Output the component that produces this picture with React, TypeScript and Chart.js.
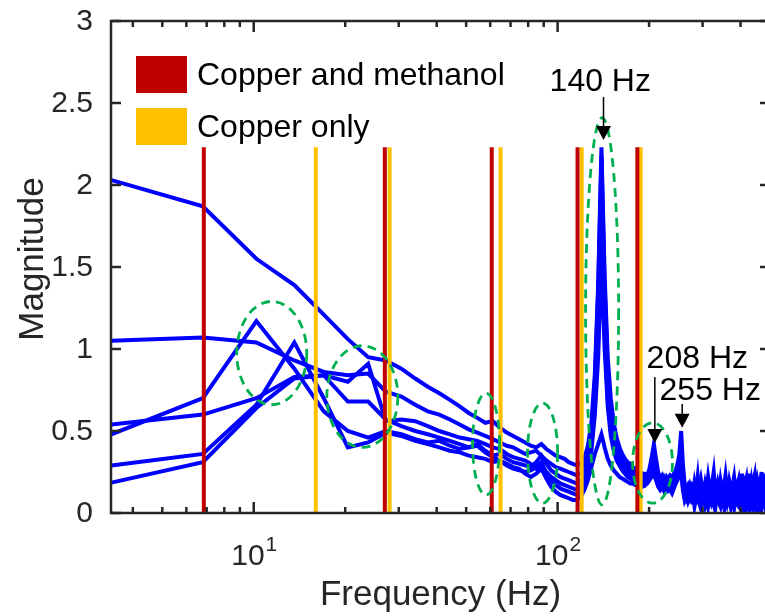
import React, { useEffect, useRef } from "react";
import { Chart, registerables } from "chart.js";

Chart.register(...registerables);

// FFT bin spacing of the spectra (Hz); bin k sits at k * binHz
const binHz = 3.4;

// Spectral magnitude of the six runs, one value per bin (bins 1..147)
const runA = [
  2.03, 1.87, 1.55, 1.39, 1.21, 1.06, 0.95, 0.93, 0.88, 0.82,
  0.77, 0.73, 0.69, 0.65, 0.61, 0.58, 0.55, 0.56, 0.52, 0.49,
  0.47, 0.45, 0.43, 0.41, 0.40, 0.42, 0.39, 0.37, 0.35, 0.34,
  0.33, 0.31, 0.30, 0.29, 0.30, 0.33, 0.41, 0.55, 0.85, 1.40,
  2.23, 1.45, 0.95, 0.70, 0.55, 0.46, 0.40, 0.36, 0.33, 0.31,
  0.30, 0.28, 0.27, 0.26, 0.25, 0.24, 0.24, 0.23, 0.24, 0.25,
  0.26, 0.24, 0.22, 0.21, 0.23, 0.20, 0.19, 0.21, 0.23, 0.22,
  0.24, 0.26, 0.30, 0.36, 0.50, 0.30, 0.18, 0.15, 0.17, 0.14,
  0.16, 0.12, 0.19, 0.14, 0.11, 0.17, 0.21, 0.15, 0.12, 0.18,
  0.14, 0.22, 0.16, 0.12, 0.19, 0.25, 0.15, 0.13, 0.18, 0.14,
  0.20, 0.15, 0.12, 0.17, 0.23, 0.16, 0.13, 0.19, 0.15, 0.12,
  0.18, 0.22, 0.15, 0.13, 0.17, 0.20, 0.14, 0.16, 0.24, 0.15,
  0.13, 0.18, 0.21, 0.14, 0.24, 0.17, 0.13, 0.19, 0.15, 0.20,
  0.23, 0.15, 0.13, 0.19, 0.16, 0.12, 0.20, 0.25, 0.15, 0.14,
  0.18, 0.24, 0.15, 0.19, 0.13, 0.21, 0.16,
];

const runB = [
  1.05, 1.07, 1.04, 0.93, 0.86, 0.84, 0.85, 0.74, 0.71, 0.66,
  0.62, 0.60, 0.57, 0.54, 0.51, 0.49, 0.47, 0.45, 0.43, 0.41,
  0.40, 0.38, 0.36, 0.37, 0.38, 0.35, 0.32, 0.30, 0.28, 0.27,
  0.26, 0.25, 0.24, 0.23, 0.24, 0.28, 0.37, 0.50, 0.80, 1.35,
  2.18, 1.38, 0.88, 0.64, 0.50, 0.43, 0.38, 0.34, 0.31, 0.29,
  0.27, 0.26, 0.25, 0.24, 0.23, 0.22, 0.22, 0.23, 0.27, 0.34,
  0.42, 0.33, 0.25, 0.21, 0.19, 0.22, 0.20, 0.18, 0.21, 0.19,
  0.22, 0.24, 0.27, 0.31, 0.34, 0.22, 0.15, 0.12, 0.14, 0.17,
  0.13, 0.11, 0.14, 0.12, 0.16, 0.13, 0.10, 0.13, 0.15, 0.12,
  0.14, 0.11, 0.15, 0.13, 0.10, 0.14, 0.17, 0.12, 0.14, 0.11,
  0.13, 0.16, 0.12, 0.10, 0.14, 0.12, 0.15, 0.18, 0.13, 0.11,
  0.14, 0.12, 0.16, 0.13, 0.10, 0.13, 0.15, 0.12, 0.11, 0.14,
  0.17, 0.13, 0.11, 0.14, 0.12, 0.15, 0.18, 0.14, 0.11, 0.13,
  0.12, 0.16, 0.14, 0.11, 0.13, 0.15, 0.12, 0.14, 0.17, 0.12,
  0.13, 0.11, 0.15, 0.13, 0.16, 0.12, 0.14,
];

const runC = [
  0.48, 0.70, 1.17, 0.88, 0.62, 0.50, 0.46, 0.50, 0.48, 0.45,
  0.43, 0.44, 0.41, 0.39, 0.40, 0.42, 0.38, 0.35, 0.36, 0.33,
  0.31, 0.30, 0.29, 0.28, 0.31, 0.35, 0.30, 0.26, 0.24, 0.22,
  0.21, 0.20, 0.19, 0.18, 0.20, 0.24, 0.32, 0.46, 0.74, 1.25,
  2.05, 1.28, 0.80, 0.58, 0.46, 0.39, 0.35, 0.31, 0.29, 0.27,
  0.25, 0.24, 0.23, 0.22, 0.21, 0.21, 0.20, 0.21, 0.23, 0.25,
  0.28, 0.24, 0.20, 0.19, 0.17, 0.20, 0.22, 0.19, 0.17, 0.20,
  0.21, 0.23, 0.26, 0.29, 0.32, 0.20, 0.13, 0.10, 0.12, 0.09,
  0.12, 0.14, 0.10, 0.08, 0.11, 0.15, 0.12, 0.09, 0.11, 0.14,
  0.10, 0.08, 0.12, 0.10, 0.13, 0.09, 0.11, 0.14, 0.10, 0.08,
  0.12, 0.09, 0.11, 0.13, 0.10, 0.08, 0.12, 0.10, 0.14, 0.09,
  0.11, 0.08, 0.12, 0.15, 0.10, 0.09, 0.12, 0.08, 0.11, 0.13,
  0.09, 0.11, 0.08, 0.12, 0.10, 0.13, 0.09, 0.12, 0.15, 0.10,
  0.08, 0.11, 0.13, 0.09, 0.12, 0.10, 0.08, 0.12, 0.10, 0.14,
  0.11, 0.09, 0.12, 0.10, 0.13, 0.09, 0.11,
];

const runD = [
  0.54, 0.60, 0.70, 0.83, 0.84, 0.80, 0.91, 0.56, 0.57, 0.56,
  0.53, 0.50, 0.48, 0.46, 0.45, 0.44, 0.42, 0.40, 0.39, 0.36,
  0.34, 0.33, 0.32, 0.30, 0.27, 0.29, 0.25, 0.22, 0.20, 0.18,
  0.17, 0.16, 0.15, 0.14, 0.16, 0.21, 0.29, 0.42, 0.65, 1.05,
  1.65, 1.08, 0.70, 0.50, 0.41, 0.35, 0.31, 0.28, 0.26, 0.24,
  0.23, 0.22, 0.21, 0.20, 0.20, 0.19, 0.19, 0.20, 0.22, 0.24,
  0.26, 0.22, 0.19, 0.17, 0.19, 0.16, 0.18, 0.20, 0.17, 0.15,
  0.18, 0.20, 0.23, 0.27, 0.30, 0.18, 0.11, 0.08, 0.10, 0.13,
  0.09, 0.12, 0.10, 0.14, 0.22, 0.11, 0.08, 0.10, 0.13, 0.09,
  0.12, 0.10, 0.08, 0.11, 0.14, 0.10, 0.07, 0.10, 0.12, 0.09,
  0.10, 0.13, 0.09, 0.11, 0.08, 0.12, 0.10, 0.09, 0.13, 0.11,
  0.09, 0.12, 0.10, 0.08, 0.11, 0.14, 0.09, 0.11, 0.08, 0.12,
  0.10, 0.13, 0.15, 0.10, 0.08, 0.11, 0.09, 0.13, 0.10, 0.12,
  0.09, 0.12, 0.10, 0.13, 0.08, 0.11, 0.14, 0.09, 0.12, 0.10,
  0.12, 0.09, 0.11, 0.13, 0.10, 0.12, 0.09,
];

const runE = [
  0.29, 0.36, 0.66, 1.04, 0.70, 0.40, 0.43, 0.49, 0.47, 0.44,
  0.42, 0.40, 0.38, 0.37, 0.35, 0.34, 0.33, 0.31, 0.32, 0.29,
  0.27, 0.26, 0.25, 0.26, 0.28, 0.31, 0.24, 0.20, 0.17, 0.15,
  0.14, 0.13, 0.12, 0.11, 0.13, 0.18, 0.26, 0.38, 0.60, 0.95,
  1.55, 1.00, 0.65, 0.47, 0.38, 0.32, 0.29, 0.26, 0.24, 0.22,
  0.21, 0.20, 0.19, 0.19, 0.18, 0.18, 0.17, 0.19, 0.21, 0.24,
  0.30, 0.23, 0.18, 0.16, 0.18, 0.15, 0.17, 0.14, 0.16, 0.18,
  0.16, 0.19, 0.22, 0.25, 0.28, 0.16, 0.10, 0.13, 0.09, 0.12,
  0.15, 0.10, 0.13, 0.09, 0.12, 0.10, 0.14, 0.11, 0.08, 0.12,
  0.15, 0.11, 0.09, 0.13, 0.10, 0.12, 0.16, 0.11, 0.09, 0.12,
  0.14, 0.10, 0.12, 0.09, 0.11, 0.15, 0.12, 0.10, 0.08, 0.12,
  0.13, 0.10, 0.09, 0.12, 0.15, 0.11, 0.09, 0.13, 0.10, 0.08,
  0.12, 0.10, 0.13, 0.09, 0.11, 0.14, 0.10, 0.08, 0.12, 0.11,
  0.14, 0.10, 0.09, 0.12, 0.15, 0.11, 0.09, 0.13, 0.10, 0.08,
  0.10, 0.13, 0.09, 0.12, 0.10, 0.14, 0.11,
];

const runF = [
  0.185, 0.31, 0.64, 0.82, 0.84, 0.68, 0.68, 0.57, 0.53, 0.50,
  0.48, 0.46, 0.44, 0.42, 0.40, 0.41, 0.37, 0.34, 0.32, 0.30,
  0.28, 0.27, 0.24, 0.22, 0.24, 0.27, 0.21, 0.16, 0.13, 0.11,
  0.10, 0.09, 0.08, 0.08, 0.10, 0.14, 0.20, 0.28, 0.36, 0.42,
  0.48, 0.40, 0.33, 0.29, 0.26, 0.24, 0.22, 0.21, 0.20, 0.19,
  0.18, 0.18, 0.17, 0.17, 0.16, 0.16, 0.17, 0.18, 0.20, 0.22,
  0.24, 0.20, 0.16, 0.14, 0.16, 0.13, 0.15, 0.17, 0.14, 0.12,
  0.15, 0.18, 0.20, 0.23, 0.26, 0.14, 0.08, 0.11, 0.07, 0.10,
  0.08, 0.11, 0.04, 0.09, 0.12, 0.06, 0.03, 0.09, 0.11, 0.05,
  0.09, 0.04, 0.10, 0.07, 0.12, 0.05, 0.02, 0.09, 0.11, 0.06,
  0.04, 0.10, 0.07, 0.03, 0.09, 0.06, 0.11, 0.07, 0.04, 0.10,
  0.07, 0.03, 0.09, 0.11, 0.05, 0.04, 0.10, 0.07, 0.02, 0.09,
  0.06, 0.10, 0.04, 0.09, 0.07, 0.03, 0.11, 0.07, 0.04, 0.09,
  0.06, 0.10, 0.03, 0.08, 0.11, 0.05, 0.09, 0.04, 0.10, 0.07,
  0.05, 0.09, 0.06, 0.11, 0.07, 0.04, 0.10,
];

const runs = [runA, runB, runC, runD, runE, runF];

// Natural frequencies (Hz) marked by vertical bars
const copperMethanolHz = [6.85, 27.0, 60.7, 116.3, 183.0];
const copperOnlyHz = [16.0, 28.0, 64.9, 120.0, 187.6];
const barTopMagnitude = 2.23;

// Axis ranges and ticks
const xMinHz = 3.39;
const xMaxHz = 500;
const yMax = 3;
const yTicks = [0, 0.5, 1, 1.5, 2, 2.5, 3];
const yTickLabels = ["0", "0.5", "1", "1.5", "2", "2.5", "3"];
const xMajorTicks = [10, 100];
const xMajorBase = "10";
const xMajorExponents = ["1", "2"];
const xMinorTicks = [4, 5, 6, 7, 8, 9, 20, 30, 40, 50, 60, 70, 80, 90, 200, 300, 400, 500];

const xTitle = "Frequency (Hz)";
const yTitle = "Magnitude";
const legendLabels = ["Copper and methanol", "Copper only"];

const RED = "#C00000";
const YELLOW = "#FFC000";
const BLUE = "#0000FF";
const GREEN = "#00B050";
const INK = "#262626";
const FONT = "'Liberation Sans', Arial, sans-serif";

// Dashed ellipses around regions of interest: frequency span and magnitude span
const highlightRegions = [
  { f0: 8.79, f1: 14.94, m0: 0.66, m1: 1.29 },
  { f0: 17.4, f1: 29.8, m0: 0.4, m1: 1.02 },
  { f0: 52.5, f1: 64.4, m0: 0.11, m1: 0.73 },
  { f0: 79.6, f1: 100, m0: 0.06, m1: 0.67 },
  { f0: 123.6, f1: 158.8, m0: 0.05, m1: 2.41 },
  { f0: 176.5, f1: 238.8, m0: 0.06, m1: 0.55 },
];

// Peak call-outs: arrow from tail to tip, and a label anchored at its left baseline
const peakCallouts = [
  { label: "140 Hz", arrowHz: 141.6, tail: 2.537, tip: 2.274, textHz: 94.1, textMag: 2.575 },
  { label: "208 Hz", arrowHz: 208.9, tail: 0.83, tip: 0.427, textHz: 196.3, textMag: 0.884 },
  { label: "255 Hz", arrowHz: 257, tail: 0.665, tip: 0.52, textHz: 216.5, textMag: 0.689 },
];

const decorations = {
  id: "decorations",
  afterDatasetsDraw(chart: any) {
    const { ctx, chartArea: a } = chart;
    const xs = chart.scales.x;
    const ys = chart.scales.y;

    // highlight ellipses
    ctx.save();
    ctx.strokeStyle = GREEN;
    ctx.lineWidth = 2.8;
    ctx.setLineDash([9, 6]);
    for (const r of highlightRegions) {
      const x0 = xs.getPixelForValue(r.f0);
      const x1 = xs.getPixelForValue(r.f1);
      const y0 = ys.getPixelForValue(r.m0);
      const y1 = ys.getPixelForValue(r.m1);
      ctx.beginPath();
      ctx.ellipse((x0 + x1) / 2, (y0 + y1) / 2, Math.abs(x1 - x0) / 2, Math.abs(y1 - y0) / 2, 0, 0, Math.PI * 2);
      ctx.stroke();
    }
    ctx.restore();

    // peak arrows and labels
    ctx.save();
    ctx.fillStyle = "#000";
    ctx.strokeStyle = "#000";
    ctx.lineWidth = 1.5;
    ctx.font = `32px ${FONT}`;
    ctx.textBaseline = "alphabetic";
    ctx.textAlign = "left";
    for (const p of peakCallouts) {
      const x = xs.getPixelForValue(p.arrowHz);
      const yt = ys.getPixelForValue(p.tail);
      const yp = ys.getPixelForValue(p.tip);
      const head = 14;
      ctx.beginPath();
      ctx.moveTo(x, yt);
      ctx.lineTo(x, yp - head + 1);
      ctx.stroke();
      ctx.beginPath();
      ctx.moveTo(x - 7.5, yp - head);
      ctx.lineTo(x + 7.5, yp - head);
      ctx.lineTo(x, yp);
      ctx.closePath();
      ctx.fill();
      ctx.fillText(p.label, xs.getPixelForValue(p.textHz), ys.getPixelForValue(p.textMag));
    }
    ctx.restore();

    // legend
    ctx.save();
    const swatches = [RED, YELLOW];
    ctx.font = `32px ${FONT}`;
    ctx.textBaseline = "middle";
    ctx.textAlign = "left";
    swatches.forEach((c, i) => {
      const top = a.top + 35 + i * 52;
      ctx.fillStyle = c;
      ctx.fillRect(a.left + 25, top, 51, 37);
      ctx.fillStyle = "#000";
      ctx.fillText(legendLabels[i], a.left + 86, top + 20);
    });
    ctx.restore();
  },
  afterDraw(chart: any) {
    const { ctx, chartArea: a } = chart;
    const xs = chart.scales.x;
    const ys = chart.scales.y;
    ctx.save();
    ctx.strokeStyle = INK;
    ctx.fillStyle = INK;
    ctx.lineWidth = 2.5;
    ctx.setLineDash([]);
    // box
    ctx.strokeRect(a.left, a.top, a.right - a.left, a.bottom - a.top);

    // y ticks (inward, both sides) and labels
    ctx.font = `30px ${FONT}`;
    ctx.textAlign = "right";
    ctx.textBaseline = "middle";
    yTicks.forEach((v, i) => {
      const y = ys.getPixelForValue(v);
      ctx.beginPath();
      ctx.moveTo(a.left, y);
      ctx.lineTo(a.left + 10, y);
      ctx.moveTo(a.right, y);
      ctx.lineTo(a.right - 10, y);
      ctx.stroke();
      ctx.fillText(yTickLabels[i], a.left - 18, y + 1);
    });

    // x ticks
    const tick = (f: number, len: number) => {
      const x = xs.getPixelForValue(f);
      ctx.beginPath();
      ctx.moveTo(x, a.bottom);
      ctx.lineTo(x, a.bottom - len);
      ctx.moveTo(x, a.top);
      ctx.lineTo(x, a.top + len);
      ctx.stroke();
    };
    xMinorTicks.forEach((f) => tick(f, 6));
    xMajorTicks.forEach((f) => tick(f, 11));

    // x tick labels as base with superscript exponent
    xMajorTicks.forEach((f, i) => {
      const x = xs.getPixelForValue(f);
      ctx.font = `30px ${FONT}`;
      ctx.textAlign = "left";
      ctx.textBaseline = "alphabetic";
      const w = ctx.measureText(xMajorBase).width;
      ctx.font = `21px ${FONT}`;
      const we = ctx.measureText(xMajorExponents[i]).width;
      const left = x - (w + we) / 2;
      ctx.font = `30px ${FONT}`;
      ctx.fillText(xMajorBase, left, a.bottom + 52);
      ctx.font = `21px ${FONT}`;
      ctx.fillText(xMajorExponents[i], left + w + 1, a.bottom + 38);
    });

    // axis titles
    ctx.font = `35px ${FONT}`;
    ctx.textAlign = "center";
    ctx.textBaseline = "alphabetic";
    ctx.fillText(xTitle, (a.left + a.right) / 2, a.bottom + 92);
    ctx.save();
    ctx.translate(43, (a.top + a.bottom) / 2 - 8);
    ctx.rotate(-Math.PI / 2);
    ctx.fillText(yTitle, 0, 0);
    ctx.restore();
    ctx.restore();
  },
};

export default function App() {
  const canvasRef = useRef<HTMLCanvasElement | null>(null);

  useEffect(() => {
    const canvas = canvasRef.current;
    if (!canvas) return;

    const spectra = runs.map((vals) => ({
      type: "line" as const,
      data: vals.map((m, i) => ({ x: (i + 1) * binHz, y: m })),
      borderColor: BLUE,
      borderWidth: 4,
      borderJoinStyle: "miter" as const,
      pointRadius: 0,
      tension: 0,
      order: 2,
    }));

    const bar = (f: number, color: string) => ({
      type: "line" as const,
      data: [
        { x: f, y: 0 },
        { x: f, y: barTopMagnitude },
      ],
      borderColor: color,
      borderWidth: 4,
      borderCapStyle: "butt" as const,
      pointRadius: 0,
      order: 1,
    });

    const bars = [
      ...copperMethanolHz.map((f) => bar(f, RED)),
      ...copperOnlyHz.map((f) => bar(f, YELLOW)),
    ];

    const chart = new Chart(canvas, {
      type: "line",
      data: { datasets: [...bars, ...spectra] as any },
      options: {
        responsive: false,
        animation: false,
        devicePixelRatio: 1,
        layout: { padding: { left: 111, top: 21, right: 5, bottom: 103 } },
        plugins: { legend: { display: false }, tooltip: { enabled: false } },
        scales: {
          x: { type: "logarithmic", min: xMinHz, max: xMaxHz, display: false },
          y: { type: "linear", min: 0, max: yMax, display: false },
        },
      },
      plugins: [decorations],
    });

    return () => chart.destroy();
  }, []);

  return (
    <div
      style={{
        position: "fixed",
        left: 0,
        top: 0,
        width: 765,
        height: 616,
        overflow: "hidden",
        background: "#fff",
      }}
    >
      <canvas ref={canvasRef} width={775} height={616} style={{ display: "block" }} />
    </div>
  );
}
